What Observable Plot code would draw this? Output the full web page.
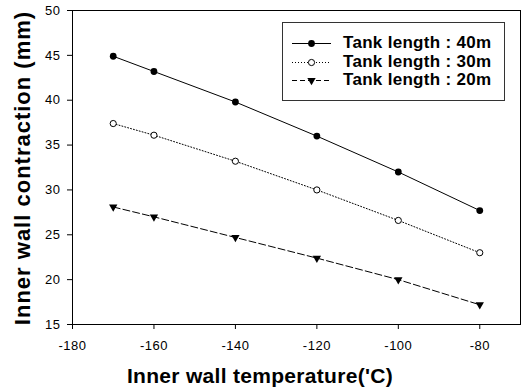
<!DOCTYPE html>
<html>
<head>
<meta charset="utf-8">
<script src="https://cdn.jsdelivr.net/npm/d3@7"></script>
<script src="https://cdn.jsdelivr.net/npm/@observablehq/plot@0.6"></script>
<style>
  html, body { margin: 0; padding: 0; background: #fff; }
  #wrap { position: relative; width: 523px; height: 392px; font-family: "Liberation Sans", Arial, sans-serif; }
  #legend { position: absolute; left: 282px; top: 22px; width: 223px; height: 79px; border: 1px solid #333; background: #fff; box-sizing: border-box; }
  .row { position: absolute; left: 0; height: 18px; display: flex; align-items: center; }
  .row span { font-weight: bold; font-size: 17px; letter-spacing: 0.3px; color: #000; margin-left: 12px; white-space: nowrap; }
  .row svg { margin-left: 8px; }
  svg g[aria-label="x-axis tick label"] text, svg g[aria-label="y-axis tick label"] text { letter-spacing: 0.5px; }
</style>
</head>
<body>
<div id="wrap"></div>
<script>
const temps = [-170, -160, -140, -120, -100, -80];
const len40 = [44.9, 43.2, 39.8, 36.0, 32.0, 27.7];
const len30 = [37.4, 36.1, 33.2, 30.0, 26.6, 23.0];
const len20 = [28.1, 27.0, 24.7, 22.4, 20.0, 17.2];
const seriesNames = ["Tank length : 40m", "Tank length : 30m", "Tank length : 20m"];
const xTicks = [-180, -160, -140, -120, -100, -80];
const yTicks = [15, 20, 25, 30, 35, 40, 45, 50];

const d40 = temps.map((t, i) => ({x: t, y: len40[i]}));
const d30 = temps.map((t, i) => ({x: t, y: len30[i]}));
const d20 = temps.map((t, i) => ({x: t, y: len20[i]}));

const chart = Plot.plot({
  width: 523,
  height: 392,
  marginLeft: 72,
  marginRight: 3,
  marginTop: 10,
  marginBottom: 68,
  style: {fontFamily: "'Liberation Sans', Arial, sans-serif", fontSize: "13px", color: "#000", background: "#fff"},
  x: {domain: [-180, -70], ticks: xTicks, tickFormat: d => String(d), label: null},
  y: {domain: [15, 50], ticks: yTicks, tickFormat: d => String(d), label: null},
  marks: [
    Plot.frame({stroke: "#000", strokeWidth: 1}),
    Plot.axisX({ticks: xTicks, tickFormat: d => String(d), tickSize: 5, tickPadding: 11, label: null, fontSize: 13}),
    Plot.axisY({ticks: yTicks, tickFormat: d => String(d), tickSize: 5, tickPadding: 7, label: null, fontSize: 13}),
    Plot.line(d40, {x: "x", y: "y", stroke: "#000", strokeWidth: 1}),
    Plot.line(d30, {x: "x", y: "y", stroke: "#000", strokeWidth: 1, strokeDasharray: "1,2"}),
    Plot.line(d20, {x: "x", y: "y", stroke: "#000", strokeWidth: 1, strokeDasharray: "7,3"}),
    Plot.dot(d40, {x: "x", y: "y", r: 3.4, fill: "#000", stroke: "none"}),
    Plot.dot(d30, {x: "x", y: "y", r: 3.1, fill: "#fff", stroke: "#000", strokeWidth: 1}),
    Plot.dot(d20, {x: "x", y: "y", r: 3.1, symbol: "triangle", rotate: 180, fill: "#000", stroke: "none"})
  ]
});

const svg = d3.select(chart);
svg.append("text")
  .attr("transform", "translate(30,168) rotate(-90)")
  .attr("text-anchor", "middle")
  .attr("font-weight", "bold")
  .attr("font-size", 22)
  .attr("letter-spacing", 1)
  .attr("fill", "#000")
  .text("Inner wall contraction (mm)");
svg.append("text")
  .attr("x", 260)
  .attr("y", 383)
  .attr("text-anchor", "middle")
  .attr("font-weight", "bold")
  .attr("font-size", 21)
  .attr("letter-spacing", 0.3)
  .attr("fill", "#000")
  .text("Inner wall temperature('C)");

const wrap = document.getElementById("wrap");
wrap.appendChild(chart);

// Legend overlay
const legend = document.createElement("div");
legend.id = "legend";
wrap.appendChild(legend);
const styles = [
  {dash: null, marker: "filled"},
  {dash: "1,2", marker: "open"},
  {dash: "5,3", marker: "tri"}
];
const rowTops = [11, 30, 48];
seriesNames.forEach((name, i) => {
  const row = document.createElement("div");
  row.className = "row";
  row.style.top = rowTops[i] + "px";
  const s = d3.create("svg").attr("width", 40).attr("height", 18);
  s.append("line").attr("x1", 1).attr("x2", 40).attr("y1", 9.5).attr("y2", 9.5)
    .attr("stroke", "#000").attr("stroke-width", 1)
    .attr("stroke-dasharray", styles[i].dash);
  if (styles[i].marker === "filled") {
    s.append("circle").attr("cx", 20.5).attr("cy", 9.5).attr("r", 3.4).attr("fill", "#000");
  } else if (styles[i].marker === "open") {
    s.append("circle").attr("cx", 20.5).attr("cy", 9.5).attr("r", 3.1).attr("fill", "#fff").attr("stroke", "#000");
  } else {
    s.append("path").attr("d", d3.symbol(d3.symbolTriangle, Math.PI * 3.1 * 3.1)())
      .attr("transform", "translate(20.5,9.5) rotate(180)").attr("fill", "#000");
  }
  row.appendChild(s.node());
  const sp = document.createElement("span");
  sp.textContent = name;
  row.appendChild(sp);
  legend.appendChild(row);
});
</script>
</body>
</html>
